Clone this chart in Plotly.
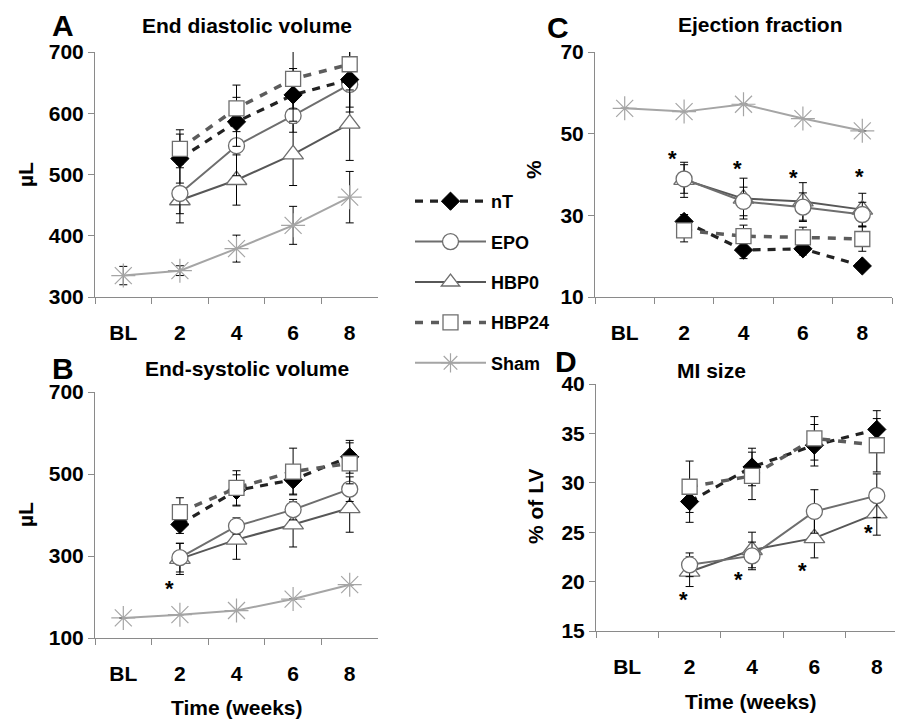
import plotly.graph_objects as go

W, H = 903, 719
OFF = 8  # page body margin of the html page

categories = ["BL", "2", "4", "6", "8"]
series_names = ["nT", "EPO", "HBP0", "HBP24", "Sham"]

# Panel A: End diastolic volume (µL)
edv_nT = [None, 526, 586, 630, 655]
edv_nT_err = [None, 40, 40, 43, 53]
edv_EPO = [None, 469, 547, 596, 647]
edv_EPO_err = [None, 48, 49, 27, 37]
edv_HBP0 = [None, 458, 491, 533, 583]
edv_HBP0_err = [None, 22, 41, 51, 60]
edv_HBP24 = [None, 542, 608, 656, 680]
edv_HBP24_err = [None, 31, 38, 49, 42]
edv_Sham = [335, 343, 379, 417, 463]
edv_Sham_err = [15, 8, 22, 31, 42]

# Panel B: End-systolic volume (µL)
esv_nT = [None, 377, 460, 486, 542]
esv_nT_err = [None, 22, 38, 35, 40]
esv_EPO = [None, 296, 373, 413, 463]
esv_EPO_err = [None, 35, 20, 25, 30]
esv_HBP0 = [None, 293, 340, 377, 417]
esv_HBP0_err = [None, 38, 48, 55, 59]
esv_HBP24 = [None, 407, 466, 506, 526]
esv_HBP24_err = [None, 35, 42, 57, 50]
esv_Sham = [149, 157, 167, 195, 230]
esv_Sham_err = [0, 0, 0, 0, 0]

# Panel C: Ejection fraction (%)
ef_nT = [None, 28.5, 21.5, 21.8, 17.6]
ef_nT_err = [None, 1.7, 2.1, 1.5, 0.5]
ef_EPO = [None, 38.9, 33.4, 32.0, 30.2]
ef_EPO_err = [None, 3.5, 3.5, 3.5, 3.0]
ef_HBP0 = [None, 38.7, 34.1, 33.4, 31.4]
ef_HBP0_err = [None, 4.3, 5.0, 4.6, 4.0]
ef_HBP24 = [None, 26.3, 24.9, 24.6, 24.2]
ef_HBP24_err = [None, 2.8, 2.7, 2.5, 3.0]
ef_Sham = [56.2, 55.4, 57.2, 53.7, 50.7]
ef_Sham_err = [0, 0, 0, 0, 0]

# Panel D: MI size (% of LV)
mi_nT = [None, 28.1, 31.6, 33.8, 35.4]
mi_nT_err = [None, 2.1, 1.9, 2.1, 1.9]
mi_EPO = [None, 21.7, 22.6, 27.1, 28.7]
mi_EPO_err = [None, 1.2, 1.4, 2.2, 2.2]
mi_HBP0 = [None, 21.0, 23.2, 24.4, 26.9]
mi_HBP0_err = [None, 1.5, 1.8, 2.0, 2.2]
mi_HBP24 = [None, 29.6, 30.7, 34.5, 33.8]
mi_HBP24_err = [None, 2.6, 2.4, 2.2, 2.7]

# significance asterisks (category, value)
star_B_cat = ["2"]
star_B_val = [229]
star_C_cat = ["2", "4", "6", "8"]
star_C_val = [44.6, 42.2, 40.1, 40.2]
star_D_cat = ["2", "4", "6", "8"]
star_D_val = [18.5, 20.5, 21.4, 25.3]

FONT = "Liberation Sans, Arial, sans-serif"
AX = "#8a8a8a"

styles = {
    "nT": dict(line=dict(color="#222222", width=3.2, dash="8px,7px"),
               marker=dict(symbol="diamond", size=14, color="black",
                           line=dict(color="black", width=1))),
    "EPO": dict(line=dict(color="#6e6e6e", width=2),
                marker=dict(symbol="circle", size=16, color="white",
                            line=dict(color="#6e6e6e", width=1.3))),
    "HBP0": dict(line=dict(color="#575757", width=2),
                 marker=dict(symbol="triangle-up", size=18, color="white",
                             line=dict(color="#6e6e6e", width=1.3))),
    "HBP24": dict(line=dict(color="#5c5c5c", width=3.5, dash="8px,8px"),
                  marker=dict(symbol="square", size=15, color="white",
                              line=dict(color="#6e6e6e", width=1.3))),
    "Sham": dict(line=dict(color="#a5a5a5", width=2),
                 marker=dict(symbol="asterisk-open", size=20,
                             line=dict(color="#a5a5a5", width=1.2))),
}
draw_order = ["Sham", "HBP0", "EPO", "nT", "HBP24"]

panels = [
    ("x", "y", {"nT": (edv_nT, edv_nT_err), "EPO": (edv_EPO, edv_EPO_err),
                "HBP0": (edv_HBP0, edv_HBP0_err), "HBP24": (edv_HBP24, edv_HBP24_err),
                "Sham": (edv_Sham, edv_Sham_err)}),
    ("x2", "y2", {"nT": (esv_nT, esv_nT_err), "EPO": (esv_EPO, esv_EPO_err),
                  "HBP0": (esv_HBP0, esv_HBP0_err), "HBP24": (esv_HBP24, esv_HBP24_err),
                  "Sham": (esv_Sham, esv_Sham_err)}),
    ("x3", "y3", {"nT": (ef_nT, ef_nT_err), "EPO": (ef_EPO, ef_EPO_err),
                  "HBP0": (ef_HBP0, ef_HBP0_err), "HBP24": (ef_HBP24, ef_HBP24_err),
                  "Sham": (ef_Sham, ef_Sham_err)}),
    ("x4", "y4", {"nT": (mi_nT, mi_nT_err), "EPO": (mi_EPO, mi_EPO_err),
                  "HBP0": (mi_HBP0, mi_HBP0_err), "HBP24": (mi_HBP24, mi_HBP24_err)}),
]

fig = go.Figure()
for pi, (xa, ya, data) in enumerate(panels):
    for name in draw_order:
        if name not in data:
            continue
        vals, errs = data[name]
        st = styles[name]
        fig.add_trace(go.Scatter(
            x=categories, y=vals, xaxis=xa, yaxis=ya, name=name,
            mode="lines+markers", line=st["line"], marker=st["marker"],
            error_y=dict(type="data", array=[e if e is not None else 0 for e in errs],
                         visible=True, color="black", thickness=1, width=4),
            showlegend=(pi == 0), legendgroup=name,
            legendrank=series_names.index(name) + 1,
            hoverinfo="skip",
        ))


def fx(px):
    return (px - OFF) / W


def fy(py):
    return 1 - (py - OFF) / H


def xaxis(dom, rng, anchor):
    return dict(domain=[fx(dom[0]), min(1, fx(dom[1]))], anchor=anchor, type="category",
                categoryorder="array", categoryarray=categories,
                range=rng, tickson="boundaries", ticks="outside", ticklen=6,
                tickcolor=AX, showline=True, linecolor=AX, linewidth=1,
                showgrid=False, zeroline=False, ticklabelstandoff=17,
                automargin=False,
                tickfont=dict(family=FONT, size=21, color="black", weight="bold"))


def yaxis(dom, rng, dtick, anchor):
    return dict(domain=[fy(dom[1]), fy(dom[0])], anchor=anchor, range=rng, dtick=dtick,
                tick0=rng[0], ticks="outside", ticklen=6, tickcolor=AX,
                showline=True, linecolor=AX, linewidth=1, showgrid=False,
                zeroline=False, automargin=False,
                tickfont=dict(family=FONT, size=21, color="black", weight="bold"))


fig.update_layout(
    width=W, height=H, margin=dict(l=0, r=0, t=0, b=0, autoexpand=False),
    paper_bgcolor="white", plot_bgcolor="white",
    xaxis=xaxis((95, 378), [-0.5, 4.5], "y"),
    yaxis=yaxis((52, 297), [300, 700], 100, "x"),
    xaxis2=xaxis((95, 378), [-0.5, 4.5], "y2"),
    yaxis2=yaxis((392, 638), [100, 700], 200, "x2"),
    xaxis3=xaxis((595, 892), [-0.5, 4.5], "y3"),
    yaxis3=yaxis((52, 297), [10, 70], 20, "x3"),
    xaxis4=xaxis((596, 908), [-0.5, 4.5], "y4"),
    yaxis4=yaxis((384, 631), [15, 40], 5, "x4"),
    showlegend=True,
    legend=dict(x=fx(410), y=fy(183), xanchor="left", yanchor="top",
                font=dict(family=FONT, size=18, color="black", weight="bold"),
                itemwidth=71, tracegroupgap=14, bgcolor="rgba(0,0,0,0)",
                traceorder="grouped"),
)


def ann(text, px, py, size, angle=0):
    fig.add_annotation(text=text, x=fx(px), y=fy(py), xref="paper", yref="paper",
                       showarrow=False, xanchor="center", yanchor="middle",
                       textangle=angle,
                       font=dict(family=FONT, size=size, color="black", weight="bold"))


for letter, px, py in [("A", 63, 26), ("B", 63, 368), ("C", 558, 27), ("D", 566, 362)]:
    ann(letter, px, py, 30)
for t, px, py in [("End diastolic volume", 247, 26), ("End-systolic volume", 247, 368),
                  ("Ejection fraction", 760, 25), ("MI size", 711, 370)]:
    ann(t, px, py, 21)
ann("µL", 25, 175, 21, -90)
ann("µL", 25, 515, 21, -90)
ann("%", 533, 170, 21, -90)
ann("% of LV", 535, 507, 21, -90)
ann("Time (weeks)", 237, 707, 21)
ann("Time (weeks)", 751, 701, 21)

star_offsets = {"x2": [-0.18], "x3": [-0.19, -0.1, -0.15, -0.05], "x4": [-0.1, -0.22, -0.19, -0.13]}
for xa, ya, cats, vals in [("x2", "y2", star_B_cat, star_B_val),
                           ("x3", "y3", star_C_cat, star_C_val),
                           ("x4", "y4", star_D_cat, star_D_val)]:
    for i, (c, v) in enumerate(zip(cats, vals)):
        fig.add_annotation(text="*", x=categories.index(c) + star_offsets[xa][i], y=v,
                           xref=xa, yref=ya, showarrow=False, yshift=-3,
                           font=dict(family=FONT, size=22, color="black", weight="bold"))

fig.write_html("out.html")
